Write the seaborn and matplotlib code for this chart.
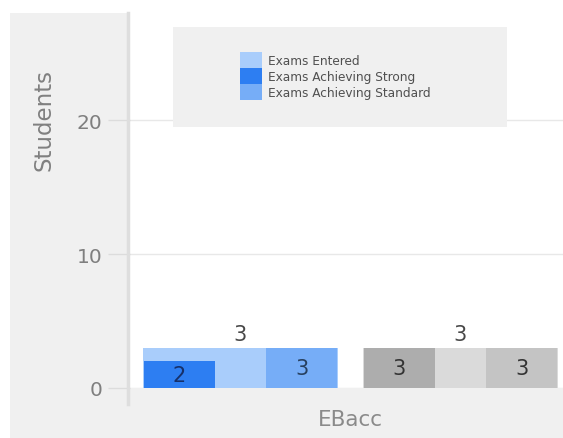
import matplotlib
matplotlib.use("Agg")
import matplotlib.pyplot as plt
import seaborn as sns
import pandas as pd
from matplotlib.patches import Rectangle
from matplotlib.lines import Line2D

# ---- data ----
category = "EBacc"
groups = ["Current", "Comparison"]
series = ["Exams Entered", "Exams Achieving Strong", "Exams Achieving Standard"]
entered = [3, 3]
strong = [2, 3]
standard = [3, 3]
y_ticks = [0, 10, 20]
y_label = "Students"

# ---- styles ----
blue_colors = ["#a9cdfb", "#2d7ef2", "#76adf7"]
grey_colors = ["#dadada", "#adadad", "#c4c4c4"]
group_colors = [blue_colors, grey_colors]
inner_label_colors = [["#16306a", "#27405f"], ["#333333", "#333333"]]

plt.rcParams['font.family'] = ['DejaVu Sans']

W, H = 563, 439
fig = plt.figure(figsize=(W / 100, H / 100), dpi=100)
fig.patch.set_facecolor("white")
fig.patches.append(Rectangle((10 / W, 0), (W - 10) / W, (H - 14) / H,
                             transform=fig.transFigure, facecolor="#f0f0f0",
                             edgecolor="none", zorder=-10))
ax = fig.add_axes([130 / W, (H - 389) / H, (W - 130) / W, (389 - 14) / H])
ax.set_facecolor("white")
ax.set_axisbelow(True)

# entered (wide background bars)
df_e = pd.DataFrame({"group": groups, "value": entered})
sns.barplot(data=df_e, x="group", y="value", hue="group", order=groups,
            hue_order=groups, dodge=False, width=0.886, legend=False,
            palette=[c[0] for c in group_colors], ax=ax, errorbar=None,
            saturation=1)
entered_containers = list(ax.containers)

# achieving bars
rows = []
for g, s1, s2 in zip(groups, strong, standard):
    rows.append({"group": g, "series": series[1], "value": s1})
    rows.append({"group": g, "series": series[2], "value": s2})
df_a = pd.DataFrame(rows)
sns.barplot(data=df_a, x="group", y="value", hue="series", order=groups,
            hue_order=series[1:], width=1.11, gap=0.42, legend=False,
            ax=ax, errorbar=None, saturation=1)
ach_containers = list(ax.containers)[len(entered_containers):]

for k, cont in enumerate(ach_containers):
    for gi, bar in enumerate(cont.patches):
        bar.set_facecolor(group_colors[gi][k + 1])
        bar.set_edgecolor("none")
    labs = ax.bar_label(cont, label_type="center", fontsize=15)
    for gi, t in enumerate(labs):
        t.set_color(inner_label_colors[gi][k])

for cont in entered_containers:
    for bar in cont.patches:
        bar.set_edgecolor("none")
    labs = ax.bar_label(cont, padding=3, fontsize=15, color="#484848")

ax.set_xlim(-0.502, 1.466)
ax.set_ylim(0, 28)
ax.set_yticks(y_ticks)
ax.set_xticks([])
ax.set_xlabel("")
ax.set_ylabel("")
for sp in ax.spines.values():
    sp.set_visible(False)
ax.tick_params(axis="y", length=16, color="#dcdcdc", width=1, labelsize=14.5,
               labelcolor="#7f7f7f", pad=4)
ax.yaxis.grid(True, color="#e8e8e8", lw=1)

# legend box
ax.add_patch(Rectangle((173 / W, 1 - 128 / H), (507 - 173) / W, 100 / H,
                       transform=fig.transFigure, facecolor="#f0f0f0",
                       edgecolor="none", zorder=1.5, clip_on=False))
handles = [Rectangle((0, 0), 1, 1, facecolor=c, edgecolor="none") for c in blue_colors]
ax.legend(handles, series, loc="upper left",
          bbox_to_anchor=(240 / W, 1 - 53 / H), bbox_transform=fig.transFigure,
          frameon=False, fontsize=8.7, handlelength=1.85, handleheight=1.65,
          labelspacing=0, handletextpad=0.5, borderpad=0, borderaxespad=0,
          labelcolor="#505050")

# vertical axis line
fig.add_artist(Line2D([127.5 / W, 127.5 / W], [1 - 14 / H, 1 - 405 / H],
                      transform=fig.transFigure, color="#dedede", lw=2.5, zorder=5))

fig.text(44 / W, 1 - 120 / H, y_label, rotation=90, ha="center", va="center",
         fontsize=16.5, color="#808080")
fig.text(350 / W, 1 - 420 / H, category, ha="center", va="center",
         fontsize=15.5, color="#8a8a8a")

fig.savefig("out.png", dpi=100, facecolor=fig.get_facecolor())
